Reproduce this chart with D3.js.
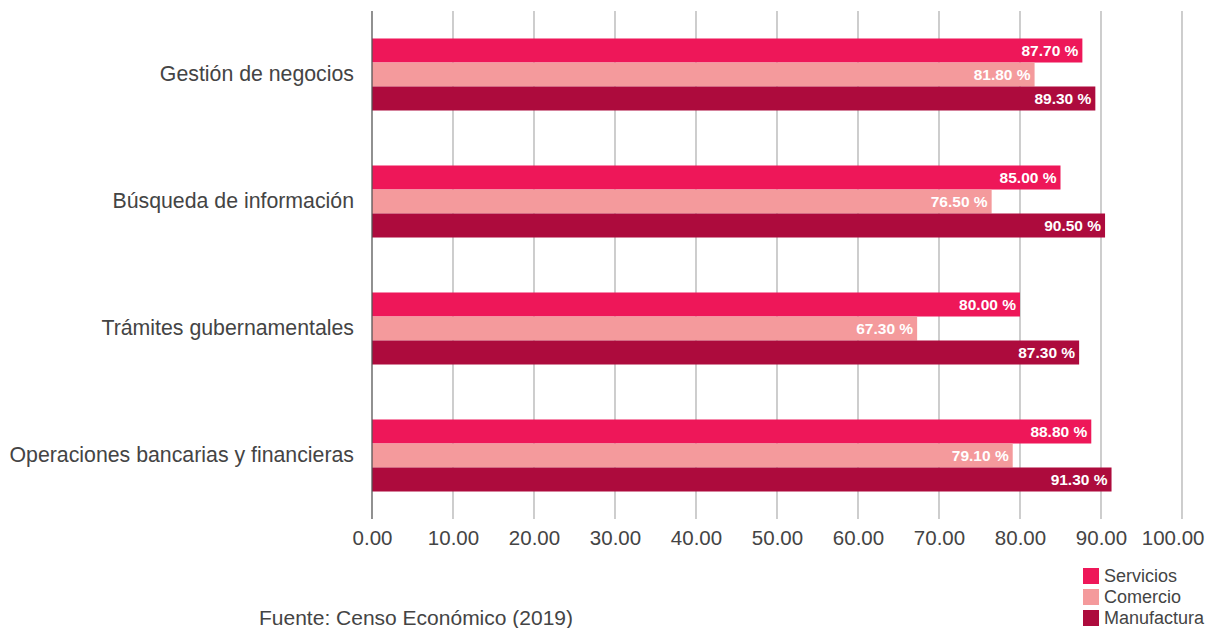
<!DOCTYPE html>
<html><head><meta charset="utf-8">
<script src="https://cdn.jsdelivr.net/npm/d3@7"></script>
<style>
html,body{margin:0;padding:0;background:#fff;}
svg{display:block;font-family:"Liberation Sans",Arial,Helvetica,sans-serif;}
</style></head>
<body><svg id="chart" width="1212" height="628"></svg>
<script>
const categories = ["Gestión de negocios","Búsqueda de información","Trámites gubernamentales","Operaciones bancarias y financieras"];
const seriesNames = ["Servicios","Comercio","Manufactura"];
const servicios = [87.7, 85.0, 80.0, 88.8];
const comercio = [81.8, 76.5, 67.3, 79.1];
const manufactura = [89.3, 90.5, 87.3, 91.3];
const tickValues = [0,10,20,30,40,50,60,70,80,90,100];
const colors = ["#ee1759","#f49a9c","#ad0b3d"];
const sourceText = "Fuente: Censo Económico (2019)";

(function(){
const svg = d3.select("#chart");
const mL = 372, mR = 1182, mT = 11, mB = 519;
const x = d3.scaleLinear().domain([0,100]).range([mL,mR]);
const y = d3.scaleBand().domain(categories).range([mT,mB]).paddingInner(0.433).paddingOuter(0.2165);
const ys = d3.scaleBand().domain(seriesNames).range([0,y.bandwidth()]);
const values = [servicios, comercio, manufactura];

// gridlines
svg.append("g").selectAll("line").data(tickValues.slice(1)).join("line")
  .attr("x1",d=>x(d)).attr("x2",d=>x(d)).attr("y1",mT).attr("y2",mB)
  .attr("stroke","#b3b3b3").attr("stroke-width",1.3);

// x axis labels
const xAxis = d3.axisBottom(x).tickValues(tickValues).tickFormat(d3.format(".2f")).tickSize(0).tickPadding(0);
const gx = svg.append("g").attr("transform",`translate(0,${mB})`).call(xAxis);
gx.select(".domain").remove();
gx.selectAll("text").attr("font-size","20.5px").attr("fill","#444").attr("dy","0").attr("y",26);
gx.selectAll(".tick text").filter(d=>d===d3.max(tickValues)).attr("text-anchor","end").attr("x",22);

// bars
categories.forEach((c,i)=>{
  const g = svg.append("g").attr("transform",`translate(0,${y(c)})`);
  seriesNames.forEach((s,j)=>{
    const v = values[j][i];
    g.append("rect").attr("x",x(0)).attr("y",ys(s)).attr("width",x(v)-x(0)).attr("height",ys.bandwidth()).attr("fill",colors[j]);
    g.append("text").attr("x",x(v)-4).attr("y",ys(s)+ys.bandwidth()/2).attr("dy","0.36em")
      .attr("text-anchor","end").attr("font-size","15.5px").attr("font-weight","bold").attr("fill","#fff")
      .text(d3.format(".2f")(v)+" %");
  });
});

// y axis line
svg.append("line").attr("x1",mL).attr("x2",mL).attr("y1",mT).attr("y2",mB).attr("stroke","#555").attr("stroke-width",1.3);

// category labels
const yAxis = d3.axisLeft(y).tickSize(0).tickPadding(18);
const gy = svg.append("g").attr("transform",`translate(${mL},0)`).call(yAxis);
gy.select(".domain").remove();
gy.selectAll("text").attr("font-size","21.3px").attr("fill","#444").attr("font-family","'Liberation Sans',Arial,sans-serif");

// legend
const lg = svg.append("g").attr("transform","translate(1083,568)");
seriesNames.forEach((s,j)=>{
  lg.append("rect").attr("x",0).attr("y",j*21).attr("width",16).attr("height",16).attr("fill",colors[j]);
  lg.append("text").attr("x",21).attr("y",j*21+8).attr("dy","0.36em").attr("font-size","18px").attr("fill","#444").text(s);
});

// source
svg.append("text").attr("x",259).attr("y",625).attr("font-size","21px").attr("fill","#444").text(sourceText);
})();
</script></body></html>
